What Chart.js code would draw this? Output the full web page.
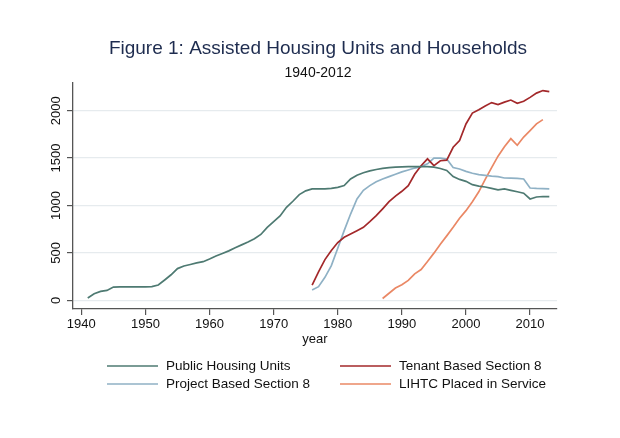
<!DOCTYPE html>
<html>
<head>
<meta charset="utf-8">
<script src="https://cdn.jsdelivr.net/npm/chart.js@4.4.0/dist/chart.umd.min.js"></script>
<style>
  html, body { margin: 0; padding: 0; background: #fff; }
</style>
</head>
<body>
<canvas id="myChart" width="620" height="438"></canvas>
<script>
// thousands of units
var publicStart = 1941;
var publicHousing = [25, 70, 95, 105, 140, 142, 142, 142, 142, 142,
  145, 162, 215, 270, 335, 362, 378, 395, 408, 436,
  468, 494, 522, 555, 585, 615, 650, 695, 770, 830,
  890, 981, 1045, 1115, 1155, 1175, 1175, 1175, 1180, 1192,
  1210, 1280, 1320, 1345, 1365, 1380, 1392, 1400, 1405, 1408,
  1410, 1410, 1410, 1410, 1405, 1390, 1370, 1305, 1275, 1255,
  1220, 1205, 1195, 1180, 1165, 1175, 1160, 1145, 1130, 1069,
  1090, 1095, 1094];

var section8Start = 1976;
var tenantBased = [162, 300, 430, 525, 610, 665, 700, 735, 770, 830,
  893, 965, 1040, 1100, 1150, 1210, 1330, 1420, 1492, 1421,
  1472, 1478, 1614, 1685, 1860, 1975, 2010, 2050, 2085, 2064,
  2090, 2112, 2078, 2099, 2140, 2185, 2212, 2201];
var projectBased = [110, 144, 243, 366, 550, 735, 910, 1070, 1160, 1210,
  1250, 1280, 1305, 1330, 1355, 1375, 1395, 1410, 1440, 1500,
  1500, 1490, 1400, 1385, 1360, 1340, 1325, 1318, 1310, 1305,
  1290, 1288, 1287, 1280, 1185, 1180, 1178, 1175];

var lihtcStart = 1987;
var lihtc = [20, 75, 130, 165, 210, 280, 325, 410, 498, 592,
  680, 770, 865, 946, 1040, 1145, 1275, 1400, 1520, 1620,
  1705, 1635, 1722, 1790, 1861, 1906];

var xTicks = [1940, 1950, 1960, 1970, 1980, 1990, 2000, 2010];
var yTicks = [0, 500, 1000, 1500, 2000];

function toPoints(start, values) {
  return values.map(function (v, i) { return {x: start + i, y: v}; });
}

// two-column legend like the Stata one
var lineLegend = {
  id: 'lineLegend',
  afterDraw: function (chart, args, opts) {
    var ctx = chart.ctx;
    ctx.save();
    ctx.font = '13.5px "Liberation Sans", Arial, sans-serif';
    ctx.textBaseline = 'middle';
    ctx.fillStyle = '#111';
    chart.data.datasets.forEach(function (ds, i) {
      var x = opts.colX[i % 2];
      var y = opts.rowY[Math.floor(i / 2)];
      ctx.strokeStyle = ds.borderColor;
      ctx.lineWidth = ds.borderWidth;
      ctx.beginPath();
      ctx.moveTo(x, y);
      ctx.lineTo(x + opts.lineLength, y);
      ctx.stroke();
      ctx.fillText(ds.label, x + opts.lineLength + opts.gap, y);
    });
    ctx.restore();
  }
};

Chart.defaults.font.family = '"Liberation Sans", Arial, sans-serif';
Chart.defaults.color = '#111';

function series(label, start, values, color) {
  return {
    label: label,
    data: toPoints(start, values),
    borderColor: color,
    backgroundColor: color,
    borderWidth: 1.7,
    pointRadius: 0,
    tension: 0
  };
}

var ctx = document.getElementById('myChart').getContext('2d');
var chart = new Chart(ctx, {
  type: 'line',
  data: {
    datasets: [
      series('Public Housing Units', publicStart, publicHousing, '#4e7a72'),
      series('Tenant Based Section 8', section8Start, tenantBased, '#a3282a'),
      series('Project Based Section 8', section8Start, projectBased, '#8fb1c5'),
      series('LIHTC Placed in Service', lihtcStart, lihtc, '#ea8865')
    ]
  },
  plugins: [lineLegend],
  options: {
    responsive: false,
    animation: false,
    layout: {padding: {left: 16, right: 0, top: 0, bottom: 89}},
    plugins: {
      legend: {display: false},
      tooltip: {enabled: false},
      title: {
        display: true,
        text: 'Figure 1: Assisted Housing Units and Households',
        color: '#1e2c4f',
        font: {size: 19, weight: 'normal'},
        padding: {top: 37, bottom: 3}
      },
      subtitle: {
        display: true,
        text: '1940-2012',
        color: '#111',
        font: {size: 14},
        padding: {top: 2, bottom: 1}
      },
      lineLegend: {colX: [107, 340], rowY: [366, 384], lineLength: 51, gap: 8}
    },
    scales: {
      x: {
        type: 'linear',
        min: 1938.7,
        max: 2014.2,
        afterBuildTicks: function (s) { s.ticks = xTicks.map(function (v) { return {value: v}; }); },
        afterFit: function (s) { s.height = 40; },
        grid: {drawOnChartArea: false, tickLength: 6, tickColor: '#555', lineWidth: 1.2},
        border: {color: '#555', width: 1.3},
        ticks: {font: {size: 13}, padding: 2, maxRotation: 0, callback: function (v) { return String(v); }},
        title: {display: true, text: 'year', font: {size: 13}, padding: {top: 0, bottom: 2}}
      },
      y: {
        min: -91,
        max: 2296,
        afterBuildTicks: function (s) { s.ticks = yTicks.map(function (v) { return {value: v}; }); },
        afterFit: function (s) { s.width = 57; },
        grid: {color: '#e6ebee', tickColor: '#555', tickLength: 6, lineWidth: 1.2},
        border: {color: '#555', width: 1.3},
        ticks: {font: {size: 13}, minRotation: 90, maxRotation: 90, crossAlign: 'center', padding: -4,
          callback: function (v) { return String(v); }}
      },
      yr: {
        position: 'right',
        display: true,
        afterFit: function (s) { s.width = 63; },
        grid: {display: false},
        border: {display: false},
        ticks: {display: false}
      }
    }
  }
});
</script>
</body>
</html>
